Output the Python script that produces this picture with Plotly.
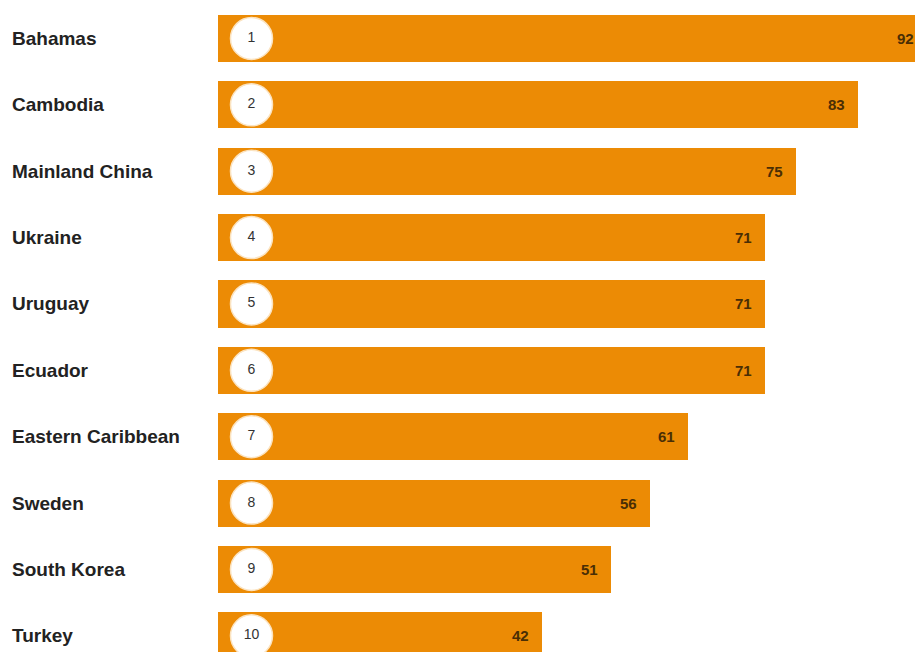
import plotly.graph_objects as go

# Ranked values per country
countries = ["Bahamas", "Cambodia", "Mainland China", "Ukraine", "Uruguay",
             "Ecuador", "Eastern Caribbean", "Sweden", "South Korea", "Turkey"]
values = [92, 83, 75, 71, 71, 71, 61, 56, 51, 42]
ranks = [str(i + 1) for i in range(len(countries))]

BAR_COLOR = "#EC8B05"
W, H = 915, 652
LEFT = 218
X_MAX = 90.4                      # visible end of the value axis
PX_PER_UNIT = (W - LEFT) / X_MAX
CIRCLE_PX = 33.5                  # badge centre, pixels from the bar start

fig = go.Figure()

fig.add_trace(go.Bar(
    y=countries, x=values, orientation="h",
    marker=dict(color=BAR_COLOR, line=dict(width=0)),
    width=0.71, hoverinfo="skip",
))

# rank badges
fig.add_trace(go.Scatter(
    y=countries, x=[CIRCLE_PX / PX_PER_UNIT] * len(countries),
    mode="markers+text", text=ranks, textposition="middle center",
    textfont=dict(family="Liberation Sans", size=14, color="#333333"),
    marker=dict(size=42, color="white", line=dict(color="#FBE3C0", width=1.5)),
    hoverinfo="skip", cliponaxis=False,
))

annotations = []
for c, v in zip(countries, values):
    # value label inside the bar end; paper x keeps it drawn even past the axis end
    annotations.append(dict(
        x=v / X_MAX, y=c, xref="paper", yref="y", text=f"<b>{v}</b>",
        showarrow=False, xanchor="right", xshift=-11,
        font=dict(family="Liberation Sans", size=15, color="#4A2E05"),
    ))
    annotations.append(dict(
        x=(10 - LEFT) / (W - LEFT), y=c, xref="paper", yref="y", text=f"<b>{c}</b>",
        showarrow=False, xanchor="left",
        font=dict(family="Liberation Sans", size=19, color="#222222"),
    ))

fig.update_layout(
    width=W, height=H,
    margin=dict(l=LEFT, r=0, t=0, b=0),
    paper_bgcolor="white", plot_bgcolor="white",
    showlegend=False,
    annotations=annotations,
    xaxis=dict(range=[0, X_MAX], visible=False, fixedrange=True),
    yaxis=dict(range=[9.244, -0.58], visible=False, fixedrange=True),
    bargap=0,
)

fig.write_html("out.html", config={"displayModeBar": False})
